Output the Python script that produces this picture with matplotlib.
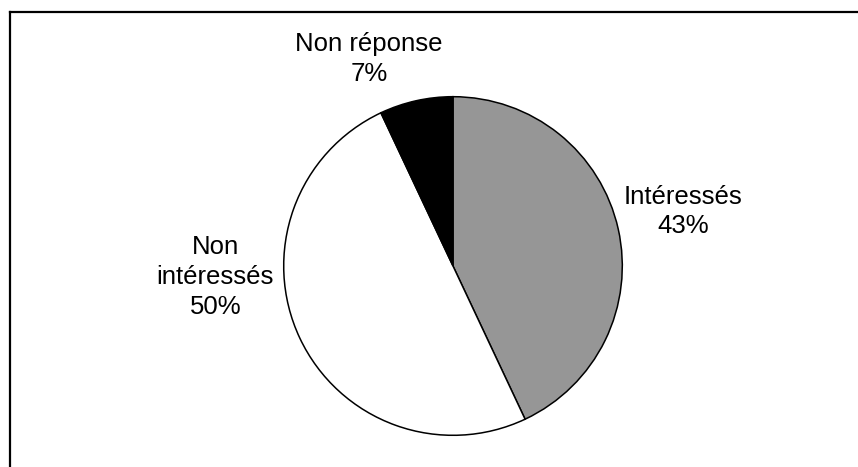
import matplotlib
matplotlib.use('Agg')
import matplotlib.pyplot as plt
from matplotlib.lines import Line2D

labels = ['Intéressés', 'Non\nintéressés', 'Non réponse']
values = [43, 50, 7]
colors = ['#969696', '#ffffff', '#000000']
# label centres in pie data coords (radius = 1)
label_pos = [(1.357, 0.322), (-1.404, -0.064), (-0.497, 1.222)]

plt.rcParams['font.family'] = ['Liberation Sans', 'DejaVu Sans']

W, H = 858, 467
fig = plt.figure(figsize=(W / 100, H / 100), dpi=100)

cx, cy, r = 453, 266, 171
ax = fig.add_axes([(cx - r) / W, (H - cy - r) / H, 2 * r / W, 2 * r / H])
ax.pie(values, colors=colors, startangle=90, counterclock=False, radius=1,
       wedgeprops={'edgecolor': 'black', 'linewidth': 1.1})
ax.set_xlim(-1.01, 1.01)
ax.set_ylim(-1.01, 1.01)
ax.set_aspect('equal')
ax.axis('off')

for lab, v, (x, y) in zip(labels, values, label_pos):
    ax.text(x, y, f'{lab}\n{v}%', ha='center', va='center', fontsize=18.5,
            linespacing=1.3, clip_on=False)

# top and left border of the chart area
fig.add_artist(Line2D([10 / W, 1], [1 - 12 / H, 1 - 12 / H], color='black', lw=1.6,
                      transform=fig.transFigure))
fig.add_artist(Line2D([10 / W, 10 / W], [0, 1 - 12 / H], color='black', lw=1.6,
                      transform=fig.transFigure))

fig.savefig('out.png', dpi=100)
